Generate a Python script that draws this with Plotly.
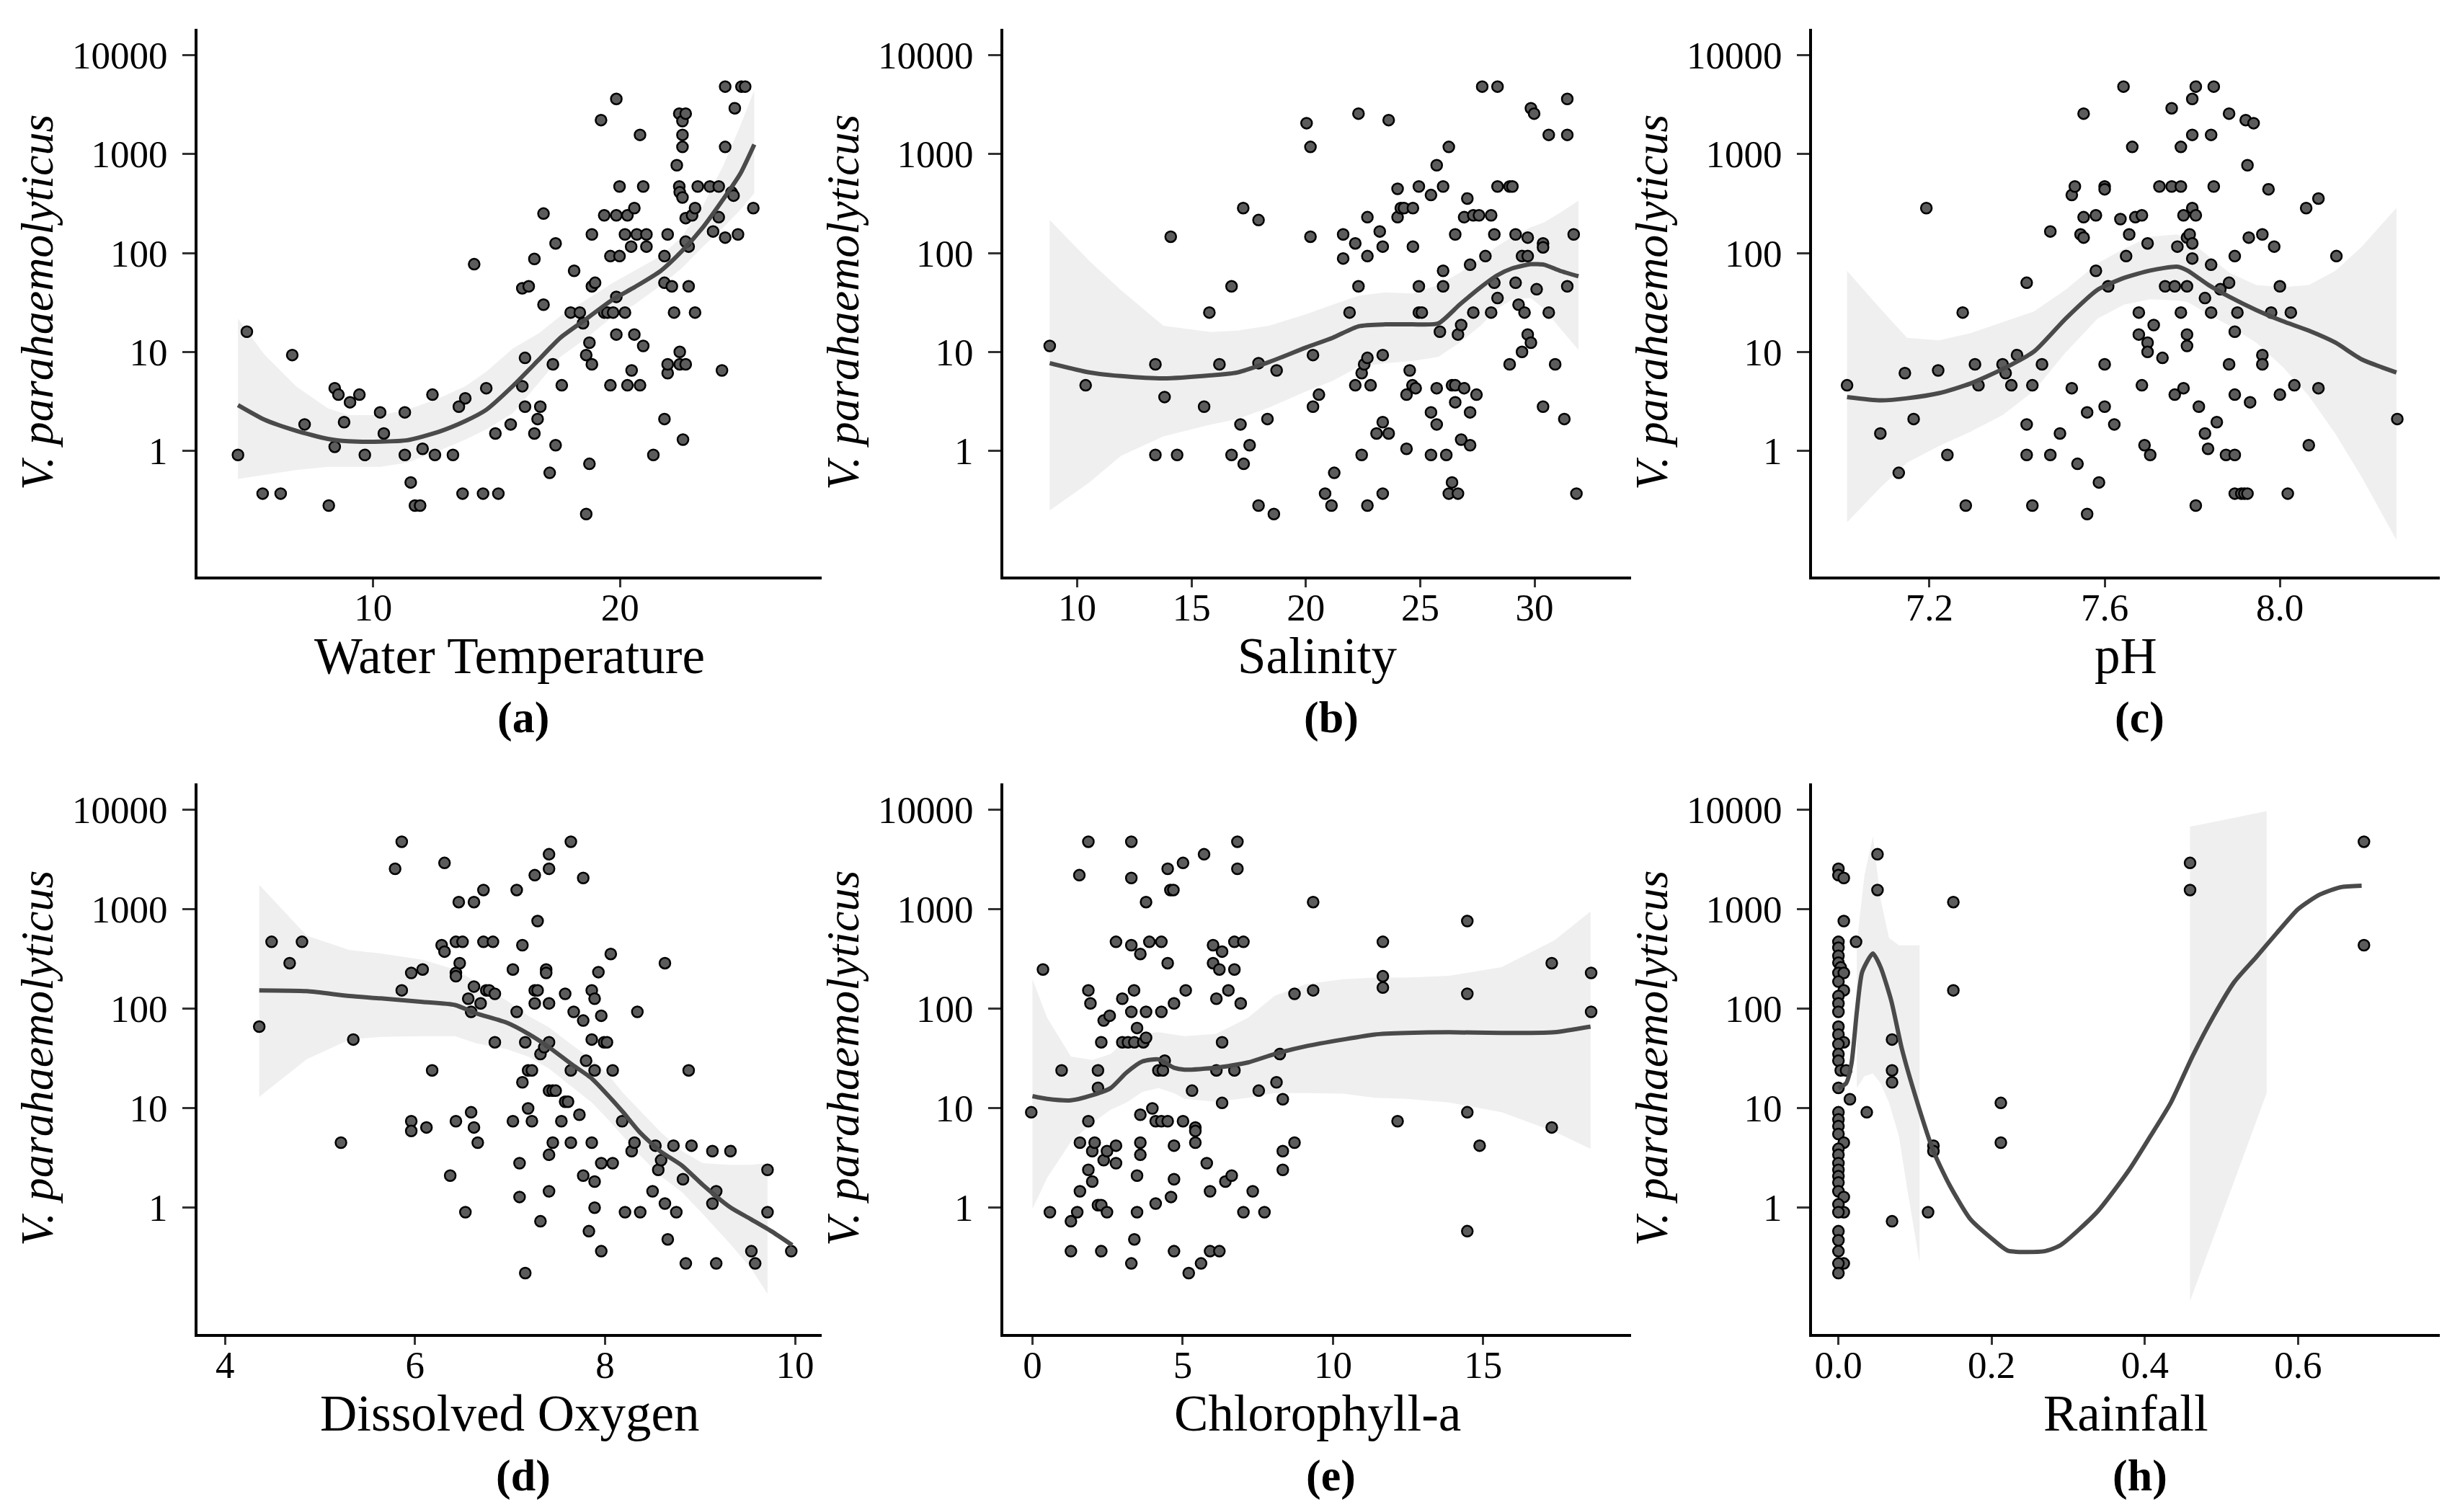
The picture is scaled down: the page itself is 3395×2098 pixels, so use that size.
import plotly.graph_objects as go

# ---------------- data ----------------
ytick_vals = [1, 10, 100, 1000, 10000]
ytick_text = ["1", "10", "100", "1000", "10000"]
y_title = "V. parahaemolyticus"

# (a) water temperature
temp_x = [4.52, 4.88, 5.52, 6.25, 6.72, 7.22, 8.2, 8.44, 8.59, 8.44,
          8.82, 9.06, 9.44, 9.66, 10.28, 10.43, 11.28, 11.28, 11.52, 11.69,
          11.9, 12.0, 12.4, 12.5, 13.23, 13.47, 13.73, 13.62, 14.09, 14.45,
          14.58, 14.95, 15.07, 15.57, 16.04, 16.15, 16.04, 16.3, 16.15, 16.53,
          16.53, 16.66, 16.77, 16.9, 16.9, 17.15, 17.28, 17.39, 17.39, 17.64,
          18.14, 18.0, 18.37, 18.5, 18.63, 18.63, 18.76, 18.76, 18.86, 18.86,
          18.86, 18.99, 19.23, 19.36, 19.36, 19.49, 19.61, 19.61, 19.72, 19.85,
          19.85, 19.85, 19.85, 19.98, 19.98, 20.2, 20.3, 20.2, 20.3, 20.45,
          20.47, 20.58, 20.58, 20.68, 20.81, 20.81, 20.94, 20.94, 21.07, 21.07,
          21.35, 21.8, 21.8, 21.8, 21.93, 21.93, 21.93, 22.1, 22.19, 22.3,
          22.4, 22.4, 22.42, 22.53, 22.53, 22.53, 22.53, 22.55, 22.42, 22.42,
          22.66, 22.66, 22.78, 22.78, 22.66, 22.66, 22.92, 23.04, 23.04, 23.15,
          23.64, 23.77, 24.0, 24.0, 24.13, 24.26, 24.26, 24.26, 24.52, 24.65,
          24.78, 24.92, 25.07, 25.4, 24.6]
temp_y = [0.91, 16, 0.37, 0.37, 9.3, 1.85, 0.28, 4.3, 3.7, 1.1,
          1.95, 3.1, 3.7, 0.91, 2.45, 1.5, 2.45, 0.91, 0.48, 0.28,
          0.28, 1.05, 3.7, 0.91, 0.91, 2.8, 3.4, 0.37, 77, 0.37,
          4.3, 1.5, 0.37, 1.85, 4.5, 8.7, 44, 46, 2.8, 1.5,
          87, 2.1, 2.8, 250, 30, 0.6, 7.5, 1.14, 125, 4.6,
          66, 25, 25, 19.5, 0.23, 9.3, 12.4, 0.74, 7.5, 154,
          46, 50, 2200, 240, 25, 25, 93, 4.6, 25, 3600,
          240, 15, 36, 470, 93, 154, 240, 25, 4.6, 116,
          6.5, 15, 284, 154, 4.6, 1560, 470, 11.5, 154, 116,
          0.91, 2.1, 93, 50, 154, 6.1, 7.5, 46, 25, 770,
          2560, 470, 410, 364, 2150, 1180, 1560, 1.3, 10, 7.5,
          7.5, 225, 46, 116, 2560, 130, 240, 284, 25, 470,
          470, 165, 470, 230, 6.5, 4800, 1180, 143, 410, 2900,
          154, 4800, 4800, 284, 380]
temp_fit_x = [4.52, 5.59, 6.87, 8.16, 9.0, 10.3, 11.37, 12.66, 13.73, 14.58, 15.65,
              16.72, 17.58, 18.65, 19.72, 20.58, 21.65, 22.5, 23.36, 24.2, 24.86, 25.44]
temp_fit_y = [2.9, 2.07, 1.6, 1.32, 1.25, 1.24, 1.28, 1.56, 2.0, 2.6, 4.5,
              8.4, 13.9, 21.7, 34, 45, 66, 104, 182, 355, 624, 1250]
temp_hi = [21.7, 9.4, 4.5, 2.7, 2.3, 2.3, 2.6, 3.4, 4.5, 6.3, 10.8,
           15.5, 23, 34, 50, 66, 93, 145, 300, 780, 1900, 4400]
temp_lo = [0.52, 0.57, 0.64, 0.69, 0.69, 0.69, 0.76, 1.0, 1.3, 1.65, 2.4,
           4.9, 8.9, 13.9, 23, 30, 47, 70, 116, 182, 270, 400]

# (b) salinity
sal_x = [8.8, 10.37, 13.42, 13.42, 13.82, 14.09, 14.37, 15.55, 15.78, 16.22,
         16.75, 16.75, 17.14, 17.26, 17.28, 17.54, 17.93, 17.93, 17.93, 18.32,
         18.6, 18.72, 20.03, 20.2, 20.2, 20.31, 20.31, 20.57, 20.84, 21.12,
         21.24, 21.63, 21.63, 21.91, 22.16, 22.16, 22.3, 22.3, 22.44, 22.44,
         22.55, 22.69, 22.69, 22.69, 22.69, 22.83, 23.09, 23.23, 23.36, 23.36,
         23.36, 23.36, 23.62, 23.62, 24.01, 24.01, 24.15, 24.29, 24.4, 24.4,
         24.54, 24.66, 24.68, 24.68, 24.8, 24.94, 24.94, 24.94, 25.07, 25.47,
         25.47, 25.47, 25.72, 25.72, 25.72, 25.86, 26.0, 26.0, 26.0, 26.14,
         26.25, 26.25, 26.39, 26.39, 26.53, 26.53, 26.53, 26.65, 26.65, 26.79,
         26.79, 26.92, 27.06, 26.92, 27.18, 27.18, 27.18, 27.32, 27.32, 27.46,
         27.57, 27.71, 27.85, 28.1, 28.1, 28.24, 28.24, 28.38, 28.38, 28.38,
         28.91, 28.91, 29.03, 29.17, 29.17, 29.3, 29.45, 29.45, 29.56, 29.7,
         29.7, 29.7, 29.84, 29.84, 29.98, 30.09, 30.37, 30.37, 30.37, 30.62,
         30.62, 30.9, 31.3, 31.43, 31.43, 31.43, 31.71, 31.83]
sal_y = [11.5, 4.6, 7.5, 0.91, 3.5, 146, 0.91, 2.8, 25, 7.5,
         46, 0.91, 1.85, 284, 0.74, 1.14, 0.28, 215, 7.7, 2.1,
         0.23, 6.5, 2050, 1180, 146, 9.3, 2.8, 3.7, 0.37, 0.28,
         0.6, 154, 88, 25, 125, 4.6, 2560, 46, 0.91, 6.1,
         7.5, 8.7, 93, 230, 0.28, 4.6, 1.5, 165, 116, 9.3,
         1.95, 0.37, 2200, 1.5, 230, 445, 284, 284, 1.05, 3.7,
         6.5, 4.6, 116, 284, 4.3, 470, 46, 25, 25, 385,
         2.45, 0.91, 770, 1.85, 4.3, 16, 470, 66, 46, 0.91,
         1180, 0.37, 0.48, 4.6, 154, 3.1, 4.6, 15, 0.37, 18.7,
         1.3, 4.3, 355, 230, 1.14, 2.45, 76, 25, 240, 3.7,
         240, 4800, 93, 240, 25, 154, 50, 4800, 35, 470,
         470, 7.5, 470, 154, 50, 30, 10, 93, 25, 15,
         93, 143, 12.4, 2900, 2560, 43, 2.8, 125, 114, 1560,
         25, 7.5, 2.1, 1560, 3600, 46, 154, 0.37]
sal_fit_x = [8.8, 10.53, 11.92, 13.77, 15.85, 17.0, 18.39, 20.01, 21.17, 22.32, 23.48,
             24.64, 25.79, 26.72, 27.64, 28.34, 29.03, 29.84, 30.42, 31.11, 31.92]
sal_fit_y = [7.7, 6.2, 5.7, 5.4, 5.8, 6.2, 7.9, 11.1, 13.9, 18.2, 19,
             19, 19.4, 30, 45, 59, 70, 77, 76, 66, 58]
sal_hi = [215, 83, 42, 18.4, 15.9, 16.4, 18.4, 24, 30, 37, 40,
          39, 47.5, 63, 88, 116, 146, 182, 204, 255, 337]
sal_lo = [0.25, 0.48, 0.89, 1.4, 1.85, 2.1, 2.74, 4.0, 5.1, 7.1, 7.7,
          8.1, 8.9, 12.4, 18.4, 27, 34, 35, 27, 17.4, 10.5]

# (c) pH
ph_x = [7.012, 7.088, 7.13, 7.144, 7.164, 7.193, 7.22, 7.241, 7.276, 7.283,
        7.304, 7.312, 7.367, 7.374, 7.387, 7.4, 7.422, 7.422, 7.422, 7.435,
        7.435, 7.457, 7.476, 7.476, 7.498, 7.525, 7.525, 7.532, 7.538, 7.545,
        7.552, 7.552, 7.552, 7.56, 7.56, 7.58, 7.58, 7.587, 7.6, 7.6,
        7.6, 7.6, 7.608, 7.622, 7.636, 7.643, 7.649, 7.656, 7.663, 7.67,
        7.678, 7.678, 7.685, 7.685, 7.691, 7.698, 7.698, 7.698, 7.704, 7.712,
        7.725, 7.732, 7.738, 7.753, 7.753, 7.76, 7.76, 7.766, 7.774, 7.774,
        7.774, 7.78, 7.78, 7.788, 7.788, 7.788, 7.788, 7.794, 7.8, 7.8,
        7.8, 7.8, 7.8, 7.808, 7.808, 7.808, 7.815, 7.829, 7.829, 7.836,
        7.843, 7.843, 7.843, 7.849, 7.849, 7.856, 7.864, 7.877, 7.884, 7.884,
        7.884, 7.897, 7.897, 7.897, 7.897, 7.897, 7.903, 7.912, 7.919, 7.926,
        7.922, 7.926, 7.932, 7.929, 7.94, 7.96, 7.96, 7.96, 7.974, 7.98,
        7.987, 8.0, 8.0, 8.018, 8.025, 8.033, 8.06, 8.066, 8.088, 8.088,
        8.129, 8.268]
ph_y = [4.6, 1.5, 0.6, 6.1, 2.1, 284, 6.5, 0.91, 25, 0.28,
        7.5, 4.6, 7.5, 6.1, 4.6, 9.3, 50, 1.85, 0.91, 4.6,
        0.28, 7.5, 165, 0.91, 1.5, 4.3, 385, 470, 0.74, 154,
        143, 2560, 230, 2.45, 0.23, 66, 240, 0.48, 470, 440,
        7.5, 2.8, 46, 1.85, 220, 4800, 93, 154, 1180, 230,
        25, 15, 4.6, 240, 1.14, 125, 12.4, 10, 0.91, 18.7,
        470, 8.7, 46, 2900, 470, 3.7, 46, 116, 1180, 470,
        25, 4.3, 240, 15, 11.5, 46, 143, 154, 3600, 1560,
        284, 88, 125, 4800, 0.28, 240, 2.8, 35, 1.5, 1.05,
        76, 1560, 25, 4800, 470, 1.95, 43, 0.91, 2560, 50,
        7.5, 93, 0.91, 16, 3.7, 0.37, 25, 0.37, 0.37, 0.37,
        2200, 770, 3.1, 143, 2050, 9.3, 7.5, 154, 440, 25,
        116, 46, 3.7, 0.37, 25, 4.6, 284, 1.14, 4.3, 355,
        93, 2.1]
ph_fit_x = [7.012, 7.089, 7.149, 7.222, 7.294, 7.367, 7.439, 7.511, 7.584, 7.644, 7.704,
            7.765, 7.789, 7.837, 7.885, 7.946, 8.006, 8.066, 8.127, 8.187, 8.266]
ph_fit_y = [3.5, 3.24, 3.4, 3.83, 4.8, 6.7, 10.1, 21.7, 42.5, 56, 66.5,
            72.7, 66.5, 47.5, 36, 26.5, 20.5, 16.4, 12.4, 8.4, 6.2]
ph_hi = [66, 27, 13.9, 13.1, 15.5, 19.9, 25.7, 42.5, 78.6, 110, 146,
         154, 138, 93, 63, 47.5, 45, 47.5, 66, 116, 285]
ph_lo = [0.19, 0.43, 0.76, 1.12, 1.56, 2.3, 4.05, 9.9, 21.7, 30, 34,
         33, 32, 24, 18.4, 12.4, 7.1, 3.6, 1.48, 0.54, 0.126]

# (d) dissolved oxygen
do_x = [4.36, 4.49, 4.68, 4.81, 5.22, 5.35, 5.79, 5.86, 5.86, 5.96,
        5.96, 5.96, 6.08, 6.12, 6.18, 6.31, 6.28, 6.31, 6.37, 6.43,
        6.43, 6.43, 6.43, 6.46, 6.47, 6.5, 6.53, 6.56, 6.59, 6.59,
        6.62, 6.62, 6.62, 6.66, 6.69, 6.72, 6.72, 6.75, 6.78, 6.82,
        6.84, 6.84, 7.03, 7.03, 7.07, 7.07, 7.1, 7.1, 7.13, 7.13,
        7.16, 7.16, 7.19, 7.19, 7.23, 7.23, 7.26, 7.26, 7.26, 7.29,
        7.29, 7.32, 7.32, 7.36, 7.38, 7.38, 7.41, 7.41, 7.41, 7.41,
        7.41, 7.41, 7.41, 7.45, 7.45, 7.48, 7.54, 7.58, 7.58, 7.61,
        7.64, 7.64, 7.64, 7.67, 7.73, 7.77, 7.77, 7.77, 7.8, 7.83,
        7.86, 7.86, 7.86, 7.89, 7.89, 7.89, 7.89, 7.93, 7.96, 7.96,
        7.96, 7.99, 8.02, 8.06, 8.08, 8.08, 8.18, 8.21, 8.28, 8.31,
        8.34, 8.37, 8.5, 8.53, 8.56, 8.59, 8.63, 8.63, 8.66, 8.72,
        8.75, 8.82, 8.85, 8.88, 8.91, 9.13, 9.13, 9.17, 9.17, 9.32,
        9.54, 9.58, 9.71, 9.71, 9.96]
do_y = [66, 470, 287, 470, 4.5, 49, 2550, 4770, 153, 229,
        7.4, 5.9, 248, 6.4, 24, 2920, 435, 375, 2.1, 229,
        212, 7.4, 470, 1180, 287, 470, 0.9, 126, 93, 9.1,
        1180, 167, 6.4, 4.5, 113, 1560, 470, 153, 153, 470,
        141, 46, 248, 7.4, 93, 1560, 2.8, 1.28, 435, 18.2,
        46, 0.22, 9.95, 24, 24, 7.4, 2200, 153, 113, 760,
        153, 0.73, 35, 41, 248, 229, 3570, 2550, 113, 46,
        15, 3.4, 1.46, 4.5, 15, 15, 7.4, 141, 11.6, 11.6,
        4.5, 24, 4770, 93, 8.6, 76, 2.1, 2060, 30, 0.58,
        4.5, 49, 153, 126, 1.83, 1.0, 24, 233, 85, 2.8,
        0.365, 46, 46, 355, 24, 2.8, 7.4, 0.9, 3.7, 4.5,
        93, 0.9, 1.46, 4.2, 2.4, 3.0, 287, 1.1, 0.48, 4.2,
        0.9, 1.93, 0.275, 24, 4.2, 3.7, 1.1, 1.46, 0.275, 3.7,
        0.365, 0.275, 2.4, 0.9, 0.365]
do_fit_x = [4.36, 4.86, 5.31, 5.64, 6.08, 6.42, 6.64, 6.97, 7.19, 7.41, 7.64,
            7.86, 8.03, 8.19, 8.36, 8.58, 8.81, 9.03, 9.31, 9.53, 9.75, 9.97]
do_fit_y = [153, 150, 134, 127, 117, 109, 90, 72, 56, 41, 28,
            19.9, 13.5, 9.1, 5.8, 3.7, 2.65, 1.69, 1.02, 0.77, 0.58, 0.42]
do_band_x = [4.36, 4.86, 5.31, 5.64, 6.08, 6.42, 6.64, 6.97, 7.19, 7.41, 7.64,
             7.86, 8.03, 8.19, 8.36, 8.58, 8.81, 9.03, 9.31, 9.53, 9.71]
do_hi = [1760, 543, 388, 359, 310, 248, 187, 120, 85, 65, 44,
         31, 22, 14.2, 9.6, 5.8, 3.7, 2.8, 2.7, 2.7, 2.8]
do_lo = [13, 31, 49, 52, 53, 53, 45, 39, 33, 25, 16.8,
         11.4, 7.7, 5.2, 3.4, 2.1, 1.43, 0.86, 0.44, 0.25, 0.136]

# (e) chlorophyll-a
chl_x = [-0.04, 0.35, 0.58, 0.97, 1.28, 1.28, 1.49, 1.56, 1.58, 1.58,
         1.86, 1.86, 1.86, 1.86, 1.93, 1.99, 1.99, 2.07, 2.18, 2.18,
         2.18, 2.29, 2.29, 2.29, 2.37, 2.37, 2.48, 2.57, 2.48, 2.78,
         2.78, 2.78, 2.99, 2.99, 3.18, 3.29, 3.29, 3.29, 3.29, 3.29,
         3.38, 3.39, 3.39, 3.48, 3.48, 3.48, 3.59, 3.59, 3.59, 3.59,
         3.69, 3.78, 3.78, 3.78, 3.89, 3.99, 4.1, 4.1, 4.19, 4.29,
         4.29, 4.29, 4.34, 4.4, 4.5, 4.5, 4.5, 4.59, 4.69, 4.71,
         4.71, 4.71, 4.71, 4.61, 5.01, 5.01, 5.1, 5.2, 5.31, 5.42,
         5.42, 5.42, 5.61, 5.71, 5.8, 5.91, 5.91, 6.01, 6.01, 6.12,
         6.12, 6.22, 6.22, 6.31, 6.31, 6.31, 6.42, 6.52, 6.63, 6.72,
         6.72, 6.72, 6.82, 6.82, 6.93, 7.02, 7.02, 7.33, 7.53, 7.72,
         8.12, 8.23, 8.33, 8.33, 8.33, 8.72, 8.72, 9.34, 9.34, 11.66,
         11.66, 11.66, 12.15, 14.47, 14.47, 14.47, 14.47, 14.88, 17.28, 17.28,
         18.59, 18.59]
chl_y = [9.1, 248, 0.9, 24, 0.73, 0.365, 0.9, 2200, 4.5, 1.46,
         4770, 153, 7.4, 2.4, 113, 1.83, 3.7, 4.5, 24, 16,
         1.06, 0.365, 46, 1.06, 3.0, 76, 0.9, 85, 3.7, 4.2,
         470, 2.8, 126, 46, 46, 4770, 2060, 435, 93, 0.275,
         153, 46, 0.48, 2.1, 0.9, 64, 355, 8.6, 4.5, 3.4,
         46, 1180, 93, 51, 470, 9.95, 1.1, 7.4, 24, 470,
         93, 7.4, 24, 30, 2550, 287, 7.4, 1560, 1560, 113,
         4.2, 1.93, 0.365, 1.28, 2920, 7.4, 153, 0.22, 15, 6.4,
         4.5, 5.9, 0.275, 3570, 2.8, 1.46, 0.365, 435, 287, 24,
         126, 248, 0.365, 375, 11.3, 46, 1.83, 153, 2.1, 248,
         470, 24, 2550, 4770, 113, 470, 0.9, 1.46, 15, 0.9,
         18.2, 35, 3.7, 2.4, 12.3, 4.5, 141, 1180, 153, 470,
         212, 163, 7.4, 760, 141, 9.1, 0.58, 4.2, 287, 6.4,
         229, 93]
chl_fit_x = [0.0, 0.49, 1.28, 1.99, 2.6, 3.13, 3.66, 4.19, 4.71, 5.06, 6.12,
             7.17, 8.05, 9.11, 10.34, 11.39, 12.45, 13.86, 15.61, 17.37, 18.57]
chl_fit_y = [13.2, 12.4, 12.0, 13.5, 15.9, 22.8, 29.5, 31, 25.5, 24.4, 25.5,
             28.8, 35, 42, 49, 55, 57, 58, 57, 58, 66]
chl_hi = [198, 81, 33, 30.5, 35, 49, 56, 58, 55, 53, 56,
          81, 134, 177, 198, 205, 205, 214, 262, 486, 950]
chl_lo = [0.97, 2.0, 4.6, 7.1, 9.6, 11.4, 14.6, 15.9, 14.2, 12.4, 11.6,
          12.7, 14.2, 14.2, 14, 12.7, 12.4, 11.4, 9.1, 5.8, 3.9]

# (h) rainfall
rain_x = [0.0, 0.0, 0.007, 0.007, 0.0, 0.0, 0.0, 0.0, 0.003, 0.0,
          0.007, 0.0, 0.007, 0.0, 0.0, 0.0, 0.0, 0.0, 0.007, 0.0,
          0.0, 0.0, 0.003, 0.01, 0.0, 0.015, 0.0, 0.0, 0.0, 0.0,
          0.007, 0.0, 0.0, 0.0, 0.0, 0.0, 0.0, 0.0, 0.007, 0.0,
          0.007, 0.0, 0.0, 0.0, 0.0, 0.007, 0.0, 0.0, 0.023, 0.037,
          0.051, 0.051, 0.07, 0.07, 0.07, 0.07, 0.117, 0.124, 0.124, 0.15,
          0.15, 0.212, 0.212, 0.459, 0.459, 0.686, 0.686]
rain_y = [2550, 2200, 2060, 760, 470, 410, 340, 290, 260, 229,
          229, 187, 153, 134, 113, 93, 66, 55, 46, 44,
          35, 30, 24, 24, 16, 12.3, 9.1, 7.7, 6.6, 5.5,
          4.5, 3.9, 3.4, 2.8, 2.4, 2.07, 1.79, 1.46, 1.28, 1.08,
          0.9, 0.9, 0.58, 0.47, 0.365, 0.275, 0.275, 0.22, 470, 9.1,
          3570, 1560, 49, 24, 18.2, 0.73, 0.9, 4.2, 3.7, 1180,
          153, 11.3, 4.5, 2920, 1560, 4770, 435]
rain_fit_x = [0.0, 0.01, 0.017, 0.024, 0.031, 0.045, 0.055, 0.069, 0.083, 0.103, 0.124,
              0.145, 0.172, 0.2, 0.221, 0.269, 0.29, 0.338, 0.379, 0.407, 0.434, 0.462,
              0.49, 0.517, 0.545, 0.572, 0.6, 0.628, 0.655, 0.683]
rain_fit_y = [15.9, 17.8, 28, 93, 234, 359, 262, 120, 39, 11.4, 3.7,
              1.69, 0.77, 0.49, 0.37, 0.365, 0.42, 0.91, 2.37, 5.2, 11.4, 33,
              85, 187, 328, 574, 1000, 1400, 1660, 1720]
rain_band1_x = [0.024, 0.034, 0.045, 0.055, 0.066, 0.079, 0.09, 0.106]
rain_band1_hi = [459, 2200, 5400, 1260, 513, 434, 434, 434]
rain_band1_lo = [15.9, 21, 22.3, 17.8, 11.4, 5.2, 1.51, 0.28]
rain_band2_x = [0.459, 0.559]
rain_band2_hi = [6760, 9670]
rain_band2_lo = [0.115, 14.2]

# ---------------- layout in page pixels ----------------
W, H = 3395, 2098
PAGE_PAD = 8  # default body margin of the html page
col_px = [(274, 1140), (1392, 2263), (2514, 3385)]
row_px = [(40, 800), (1087, 1851)]
FONT = "Liberation Serif"
POINT_FILL = "#5c5c5c"
LINE_COLOR = "#4a4a4a"
BAND_COLOR = "#efefef"

panels = [
    dict(x=temp_x, y=temp_y, fx=temp_fit_x, fy=temp_fit_y,
         bands=[(temp_fit_x, temp_lo, temp_hi)], xr=[2.88, 28.17],
         xt=[10, 20], xtt=["10", "20"], title="Water Temperature", tag="(a)"),
    dict(x=sal_x, y=sal_y, fx=sal_fit_x, fy=sal_fit_y,
         bands=[(sal_fit_x, sal_lo, sal_hi)], xr=[6.77, 34.22],
         xt=[10, 15, 20, 25, 30], xtt=["10", "15", "20", "25", "30"], title="Salinity", tag="(b)"),
    dict(x=ph_x, y=ph_y, fx=ph_fit_x, fy=ph_fit_y,
         bands=[(ph_fit_x, ph_lo, ph_hi)], xr=[6.932, 8.365],
         xt=[7.2, 7.6, 8.0], xtt=["7.2", "7.6", "8.0"], title="pH", tag="(c)"),
    dict(x=do_x, y=do_y, fx=do_fit_x, fy=do_fit_y,
         bands=[(do_band_x, do_lo, do_hi)], xr=[3.71, 10.28],
         xt=[4, 6, 8, 10], xtt=["4", "6", "8", "10"], title="Dissolved Oxygen", tag="(d)"),
    dict(x=chl_x, y=chl_y, fx=chl_fit_x, fy=chl_fit_y,
         bands=[(chl_fit_x, chl_lo, chl_hi)], xr=[-0.97, 19.92],
         xt=[0, 5, 10, 15], xtt=["0", "5", "10", "15"], title="Chlorophyll-a", tag="(e)"),
    dict(x=rain_x, y=rain_y, fx=rain_fit_x, fy=rain_fit_y,
         bands=[(rain_band1_x, rain_band1_lo, rain_band1_hi),
                (rain_band2_x, rain_band2_lo, rain_band2_hi)], xr=[-0.0345, 0.785],
         xt=[0.0, 0.2, 0.4, 0.6], xtt=["0.0", "0.2", "0.4", "0.6"], title="Rainfall", tag="(h)"),
]

FW, FH = W - 2 * PAGE_PAD, H - 2 * PAGE_PAD


def px_x(v):
    return (v - PAGE_PAD) / FW


def px_y(v):
    return 1 - (v - PAGE_PAD) / FH


fig = go.Figure()
annotations = []

for i, p in enumerate(panels):
    n = i + 1
    r, c = divmod(i, 3)
    x0, x1 = col_px[c]
    y0, y1 = row_px[r]
    xa = "x" if n == 1 else "x%d" % n
    ya = "y" if n == 1 else "y%d" % n

    for bx, blo, bhi in p["bands"]:
        fig.add_trace(go.Scatter(x=list(bx) + list(bx)[::-1], y=list(bhi) + list(blo)[::-1],
                                 fill="toself", fillcolor=BAND_COLOR, mode="lines",
                                 line=dict(width=0, color=BAND_COLOR), hoverinfo="skip",
                                 showlegend=False, xaxis=xa, yaxis=ya))
    fig.add_trace(go.Scatter(x=p["x"], y=p["y"], mode="markers", showlegend=False,
                             marker=dict(size=15, color=POINT_FILL, line=dict(color="black", width=2.5)),
                             xaxis=xa, yaxis=ya))
    fig.add_trace(go.Scatter(x=p["fx"], y=p["fy"], mode="lines", showlegend=False,
                             line=dict(color=LINE_COLOR, width=6, shape="spline", smoothing=0.6),
                             xaxis=xa, yaxis=ya))

    axis_common = dict(showline=True, linecolor="black", linewidth=4, ticks="outside",
                       tickcolor="#333333", tickwidth=3, showgrid=False, zeroline=False,
                       tickfont=dict(family=FONT, size=53, color="black"))
    fig.update_layout(**{
        ("xaxis" if n == 1 else "xaxis%d" % n): dict(
            domain=[px_x(x0), px_x(x1)], anchor=ya, range=p["xr"],
            tickvals=p["xt"], ticktext=p["xtt"], ticklen=11, ticklabelstandoff=-18, **axis_common),
        ("yaxis" if n == 1 else "yaxis%d" % n): dict(
            domain=[px_y(y1), px_y(y0)], anchor=xa, type="log", range=[-1.27, 4.265],
            tickvals=ytick_vals, ticktext=ytick_text, ticklen=17, ticklabelstandoff=10, **axis_common),
    })

    cx = (x0 + x1) / 2
    annotations.append(dict(x=px_x(x0 - 223), y=px_y((y0 + y1) / 2), xref="paper", yref="paper",
                            text="<i>%s</i>" % y_title, textangle=-90, showarrow=False,
                            font=dict(family=FONT, size=64, color="black"),
                            xanchor="center", yanchor="middle"))
    annotations.append(dict(x=px_x(cx), y=px_y(y1 + 110), xref="paper", yref="paper",
                            text=p["title"], showarrow=False,
                            font=dict(family=FONT, size=71, color="black"),
                            xanchor="center", yanchor="middle"))
    annotations.append(dict(x=px_x(cx + 19), y=px_y(y1 + 196), xref="paper", yref="paper",
                            text="<b>%s</b>" % p["tag"], showarrow=False,
                            font=dict(family=FONT, size=62, color="black"),
                            xanchor="center", yanchor="middle"))

fig.update_layout(width=FW, height=FH, margin=dict(l=0, r=0, t=0, b=0),
                  paper_bgcolor="white", plot_bgcolor="white",
                  annotations=annotations, showlegend=False)

fig.write_html("out.html")
